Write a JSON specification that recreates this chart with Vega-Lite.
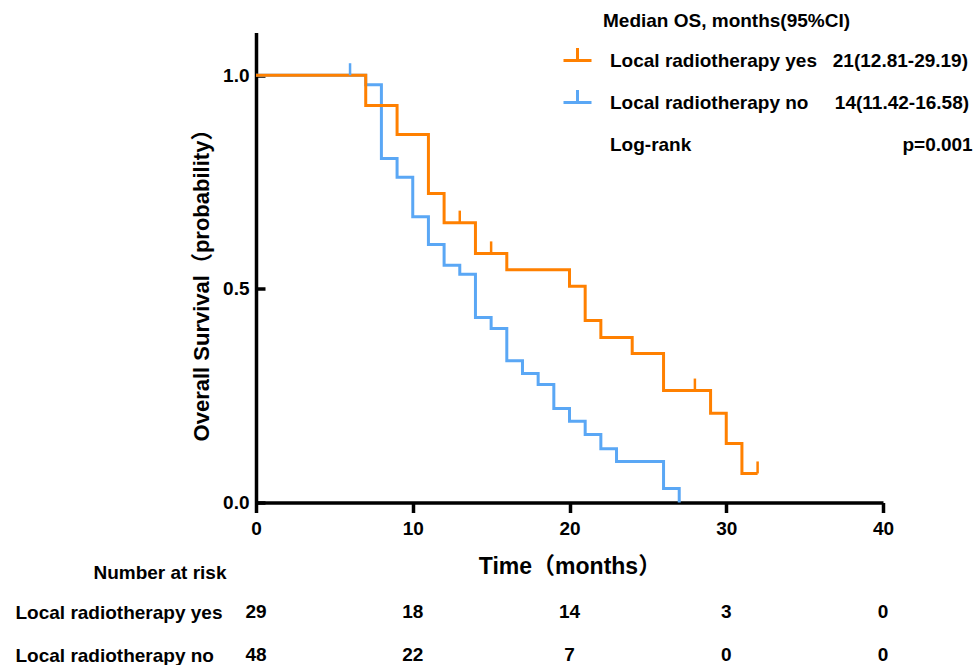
{
  "$schema": "https://vega.github.io/schema/vega-lite/v6.json",
  "background": "white",
  "padding": {"left": 15, "top": 11.5, "right": 5, "bottom": 0},
  "config": {
    "view": {"stroke": null},
    "font": "Liberation Sans, Noto Sans CJK SC",
    "axis": {"labelColor": "black", "titleColor": "black", "domainColor": "black", "tickColor": "black", "grid": false}
  },
  "datasets": {
    "curves": [
      {"group": "Local radiotherapy no", "time": 0, "surv": 1.0},
      {"group": "Local radiotherapy no", "time": 7, "surv": 0.978},
      {"group": "Local radiotherapy no", "time": 8, "surv": 0.805},
      {"group": "Local radiotherapy no", "time": 9, "surv": 0.761},
      {"group": "Local radiotherapy no", "time": 10, "surv": 0.669},
      {"group": "Local radiotherapy no", "time": 11, "surv": 0.604},
      {"group": "Local radiotherapy no", "time": 12, "surv": 0.555},
      {"group": "Local radiotherapy no", "time": 13, "surv": 0.534},
      {"group": "Local radiotherapy no", "time": 14, "surv": 0.433},
      {"group": "Local radiotherapy no", "time": 15, "surv": 0.407},
      {"group": "Local radiotherapy no", "time": 16, "surv": 0.332},
      {"group": "Local radiotherapy no", "time": 17, "surv": 0.302},
      {"group": "Local radiotherapy no", "time": 18, "surv": 0.276},
      {"group": "Local radiotherapy no", "time": 19, "surv": 0.220},
      {"group": "Local radiotherapy no", "time": 20, "surv": 0.190},
      {"group": "Local radiotherapy no", "time": 21, "surv": 0.159},
      {"group": "Local radiotherapy no", "time": 22, "surv": 0.126},
      {"group": "Local radiotherapy no", "time": 23, "surv": 0.096},
      {"group": "Local radiotherapy no", "time": 26, "surv": 0.033},
      {"group": "Local radiotherapy no", "time": 27, "surv": 0.0},
      {"group": "Local radiotherapy yes", "time": 0, "surv": 1.0},
      {"group": "Local radiotherapy yes", "time": 7, "surv": 0.929},
      {"group": "Local radiotherapy yes", "time": 9, "surv": 0.861},
      {"group": "Local radiotherapy yes", "time": 11, "surv": 0.723},
      {"group": "Local radiotherapy yes", "time": 12, "surv": 0.655},
      {"group": "Local radiotherapy yes", "time": 14, "surv": 0.583},
      {"group": "Local radiotherapy yes", "time": 16, "surv": 0.545},
      {"group": "Local radiotherapy yes", "time": 20, "surv": 0.506},
      {"group": "Local radiotherapy yes", "time": 21, "surv": 0.426},
      {"group": "Local radiotherapy yes", "time": 22, "surv": 0.386},
      {"group": "Local radiotherapy yes", "time": 24, "surv": 0.349},
      {"group": "Local radiotherapy yes", "time": 26, "surv": 0.262},
      {"group": "Local radiotherapy yes", "time": 29, "surv": 0.209},
      {"group": "Local radiotherapy yes", "time": 30, "surv": 0.138},
      {"group": "Local radiotherapy yes", "time": 31, "surv": 0.068},
      {"group": "Local radiotherapy yes", "time": 32, "surv": 0.068}
    ],
    "censors": [
      {"group": "Local radiotherapy no", "time": 6, "surv": 1.0},
      {"group": "Local radiotherapy yes", "time": 13, "surv": 0.655},
      {"group": "Local radiotherapy yes", "time": 15, "surv": 0.583},
      {"group": "Local radiotherapy yes", "time": 28, "surv": 0.262},
      {"group": "Local radiotherapy yes", "time": 32, "surv": 0.068}
    ],
    "risk": [
      {"group": "Local radiotherapy yes", "time": 0, "n": 29},
      {"group": "Local radiotherapy yes", "time": 10, "n": 18},
      {"group": "Local radiotherapy yes", "time": 20, "n": 14},
      {"group": "Local radiotherapy yes", "time": 30, "n": 3},
      {"group": "Local radiotherapy yes", "time": 40, "n": 0},
      {"group": "Local radiotherapy no", "time": 0, "n": 48},
      {"group": "Local radiotherapy no", "time": 10, "n": 22},
      {"group": "Local radiotherapy no", "time": 20, "n": 7},
      {"group": "Local radiotherapy no", "time": 30, "n": 0},
      {"group": "Local radiotherapy no", "time": 40, "n": 0}
    ]
  },
  "spacing": 101.4,
  "bounds": "flush",
  "resolve": {"scale": {"color": "independent"}, "legend": {"color": "independent"}},
  "vconcat": [
    {
      "width": 627,
      "height": 470,
      "encoding": {
        "x": {"field": "time", "type": "quantitative",
          "scale": {"domain": [0, 40], "nice": false},
          "axis": {"values": [0, 10, 20, 30, 40], "title": "Time（months）", "tickSize": 10, "tickWidth": 3.5, "domainWidth": 3.5,
            "labelFontSize": 19, "labelFontWeight": "bold", "labelPadding": 7, "labelFlush": false,
            "titleFontSize": 23, "titleFontWeight": "bold", "titlePadding": 17}},
        "y": {"field": "surv", "type": "quantitative",
          "scale": {"domain": [0, 1.1], "nice": false},
          "axis": {"values": [0, 0.5, 1], "format": ".1f", "title": "Overall Survival（probability）", "tickSize": -9, "tickWidth": 3.5, "domainWidth": 3.5,
            "labelFontSize": 19, "labelFontWeight": "bold", "labelPadding": 16,
            "titleFontSize": 22, "titleFontWeight": "bold", "titlePadding": 9, "titleY": 247}}
      },
      "layer": [
        {
          "data": {"name": "curves"},
          "transform": [{"filter": "datum.group === 'Local radiotherapy no'"}],
          "mark": {"type": "line", "interpolate": "step-after", "strokeWidth": 3},
          "encoding": {
            "color": {"field": "group", "type": "nominal",
              "scale": {"domain": ["Local radiotherapy yes", "Local radiotherapy no", "Log-rank"], "range": ["#FF8000", "#5AA7F5", "rgba(0,0,0,0)"]},
              "legend": {
                "title": "Median OS, months(95%CI)",
                "orient": "none", "legendX": 306, "legendY": -20.5, "direction": "vertical", "padding": 0,
                "symbolType": "M-1,0H1M0,0V-0.9", "symbolSize": 784, "symbolStrokeWidth": 3, "symbolFillColor": "transparent",
                "labelFontSize": 19, "labelFontWeight": "bold", "labelColor": "black", "labelOffset": 17, "labelLimit": 0,
                "rowPadding": 12,
                "titleFontSize": 19, "titleFontWeight": "bold", "titleColor": "black", "titlePadding": 14, "titleLimit": 0,
                "labelExpr": "datum.label === 'Local radiotherapy yes' ? 'Local radiotherapy yes\u00a0\u00a0\u00a021(12.81-29.19)' : datum.label === 'Local radiotherapy no' ? 'Local radiotherapy no\u00a0\u00a0\u00a0\u00a0\u00a014(11.42-16.58)' : 'Log-rank\u00a0\u00a0\u00a0\u00a0\u00a0\u00a0\u00a0\u00a0\u00a0\u00a0\u00a0\u00a0\u00a0\u00a0\u00a0\u00a0\u00a0\u00a0\u00a0\u00a0\u00a0\u00a0\u00a0\u00a0\u00a0\u00a0\u00a0\u00a0\u00a0\u00a0\u00a0\u00a0\u00a0\u00a0\u00a0\u00a0\u00a0\u00a0\u00a0\u00a0p=0.001'",
                "encode": {"title": {"update": {"dx": {"value": 41}}}}
              }
            }
          }
        },
        {
          "data": {"name": "curves"},
          "transform": [{"filter": "datum.group === 'Local radiotherapy yes'"}],
          "mark": {"type": "line", "interpolate": "step-after", "strokeWidth": 3},
          "encoding": {
            "color": {"field": "group", "type": "nominal",
              "scale": {"domain": ["Local radiotherapy yes", "Local radiotherapy no", "Log-rank"], "range": ["#FF8000", "#5AA7F5", "rgba(0,0,0,0)"]}}
          }
        },
        {
          "data": {"name": "censors"},
          "mark": {"type": "point", "shape": "M0,0V-1", "size": 576, "filled": false, "strokeWidth": 2.5, "opacity": 1},
          "encoding": {
            "color": {"field": "group", "type": "nominal",
              "scale": {"domain": ["Local radiotherapy yes", "Local radiotherapy no", "Log-rank"], "range": ["#FF8000", "#5AA7F5", "rgba(0,0,0,0)"]}}
          }
        }
      ]
    },
    {
      "width": 627,
      "height": 60,
      "data": {"name": "risk"},
      "mark": {"type": "text", "fontSize": 19, "fontWeight": "bold", "color": "black", "align": "center", "baseline": "middle"},
      "encoding": {
        "x": {"field": "time", "type": "quantitative", "scale": {"domain": [0, 40], "nice": false}, "axis": null},
        "y": {"field": "group", "type": "nominal",
          "scale": {"type": "point", "domain": ["Local radiotherapy yes", "Local radiotherapy no"], "padding": 0.2},
          "axis": {"title": "Number at risk", "domain": false, "ticks": false, "labelAlign": "left", "labelPadding": 241,
            "labelFontSize": 19, "labelFontWeight": "bold", "labelLimit": 0, "labelBaseline": "middle",
            "titleAngle": 0, "titleAlign": "right", "titleBaseline": "middle", "titleX": -30, "titleY": -31,
            "titleFontSize": 19, "titleFontWeight": "bold"}},
        "text": {"field": "n", "type": "quantitative"}
      }
    }
  ]
}
